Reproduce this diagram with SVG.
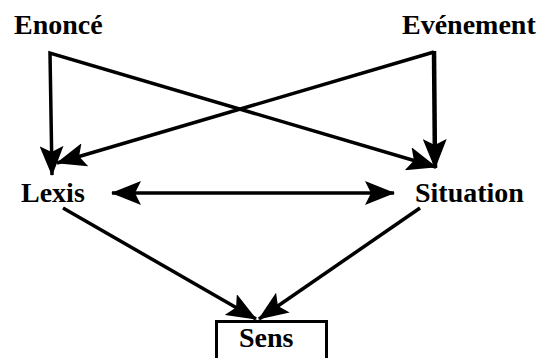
<svg xmlns="http://www.w3.org/2000/svg" width="542" height="358" viewBox="0 0 542 358">
<style>
.ln{stroke:#000;stroke-width:3.5;fill:none;stroke-linecap:butt}
</style>
<defs>
<marker id="ah" viewBox="0 0 30 24" refX="29" refY="12" markerWidth="30" markerHeight="24" markerUnits="userSpaceOnUse" orient="auto-start-reverse">
<path d="M0,0 L30,12 L0,24 L6,12 Z" fill="#000"/>
</marker>
</defs>
<rect width="542" height="358" fill="#fff"/>
<g id="connectors">
<path class="ln" d="M52,175 L50,53 L436,167" marker-start="url(#ah)" marker-end="url(#ah)"/>
<path class="ln" d="M57,163 L434,52" marker-start="url(#ah)"/>
<line class="ln" x1="434" y1="51" x2="435" y2="168" style="stroke-width:4.5" marker-end="url(#ah)"/>
<line class="ln" x1="112" y1="193" x2="394" y2="193" marker-start="url(#ah)" marker-end="url(#ah)"/>
<line class="ln" x1="63" y1="208" x2="256" y2="319" marker-end="url(#ah)"/>
<line class="ln" x1="420" y1="208" x2="259" y2="319" marker-end="url(#ah)"/>
</g>
<g font-family="Liberation Serif" font-weight="bold" font-size="28" fill="#000">
<g id="enonce"><text x="14" y="34">Enoncé</text></g>
<g id="evenement"><text x="402" y="34">Evénement</text></g>
<g id="lexis"><text x="21" y="202">Lexis</text></g>
<g id="situation"><text x="415" y="202">Situation</text></g>
<g id="sens">
<rect x="216.5" y="321.5" width="110" height="50" fill="none" stroke="#000" stroke-width="3"/>
<text x="239" y="347">Sens</text>
</g>
</g>
</svg>
